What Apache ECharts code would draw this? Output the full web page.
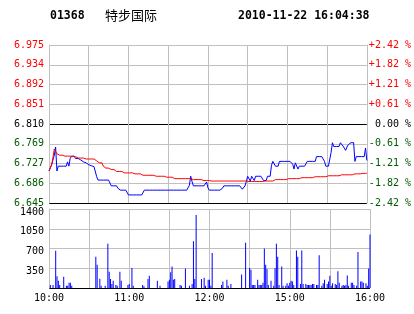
<!DOCTYPE html>
<html>
<head>
<meta charset="utf-8">
<script src="https://cdn.jsdelivr.net/npm/echarts@6/dist/echarts.min.js"></script>
<style>
html,body{margin:0;padding:0;background:#fff;}
#chart{width:414px;height:314px;}
</style>
</head>
<body>
<div id="chart"></div>
<script>
// ---------- DATA ----------
const stockCode = '01368';
const stockName = '特步国际';
const timestamp = '2010-11-22 16:04:38';
const prevClose = 6.81;
const pctRange = 2.42; // percent, top/bottom of price panel

// tick labels, bottom to top
const priceTickLabels = ['6.645','6.686','6.727','6.769','6.810','6.851','6.892','6.934','6.975'];
const pctTickLabels = ['-2.42 %','-1.82 %','-1.21 %','-0.61 %',' 0.00 %','+0.61 %','+1.21 %','+1.82 %','+2.42 %'];
const volumeTicks = [0, 350, 700, 1050, 1400];
const timeLabels = ['10:00', '11:00', '12:00', '15:00', '16:00'];

// trading sessions (minute categories)
const sessions = [['10:00', '12:30'], ['14:31', '16:00']];

// last price per minute
const price = [
  6.712, 6.716, 6.725, 6.735, 6.745, 6.762, 6.712, 6.722, 6.722, 6.722,
  6.722, 6.722, 6.722, 6.722, 6.731, 6.722, 6.738, 6.743, 6.743, 6.743,
  6.738, 6.738, 6.738, 6.735, 6.735, 6.733, 6.731, 6.731, 6.729, 6.727,
  6.725, 6.725, 6.723, 6.721, 6.721, 6.720, 6.700, 6.693, 6.693, 6.693,
  6.693, 6.693, 6.693, 6.693, 6.693, 6.693, 6.689, 6.681, 6.681, 6.681,
  6.681, 6.681, 6.676, 6.672, 6.672, 6.672, 6.672, 6.672, 6.672, 6.672,
  6.662, 6.662, 6.662, 6.662, 6.662, 6.662, 6.662, 6.662, 6.662, 6.662,
  6.662, 6.662, 6.672, 6.672, 6.672, 6.672, 6.672, 6.672, 6.672, 6.672,
  6.672, 6.672, 6.672, 6.672, 6.672, 6.672, 6.672, 6.672, 6.672, 6.672,
  6.672, 6.672, 6.672, 6.672, 6.672, 6.672, 6.672, 6.672, 6.672, 6.672,
  6.672, 6.672, 6.672, 6.672, 6.672, 6.676, 6.682, 6.701, 6.690, 6.681,
  6.681, 6.681, 6.681, 6.681, 6.681, 6.681, 6.681, 6.681, 6.681, 6.689,
  6.677, 6.672, 6.672, 6.672, 6.672, 6.672, 6.672, 6.672, 6.672, 6.672,
  6.672, 6.676, 6.681, 6.681, 6.681, 6.681, 6.681, 6.681, 6.681, 6.681,
  6.681, 6.681, 6.681, 6.681, 6.681, 6.681, 6.674, 6.677, 6.681, 6.690,
  6.701, 6.701, 6.691, 6.701, 6.701, 6.692, 6.701, 6.701, 6.701, 6.701,
  6.701, 6.701, 6.692, 6.692, 6.692, 6.701, 6.701, 6.701, 6.724, 6.732,
  6.732, 6.722, 6.722, 6.722, 6.732, 6.732, 6.732, 6.732, 6.732, 6.732,
  6.732, 6.732, 6.732, 6.732, 6.726, 6.716, 6.729, 6.731, 6.716, 6.722,
  6.722, 6.722, 6.722, 6.722, 6.722, 6.732, 6.732, 6.732, 6.732, 6.732,
  6.732, 6.732, 6.742, 6.742, 6.742, 6.742, 6.742, 6.742, 6.732, 6.722,
  6.722, 6.722, 6.722, 6.751, 6.771, 6.763, 6.763, 6.763, 6.763, 6.763,
  6.771, 6.771, 6.764, 6.767, 6.755, 6.762, 6.767, 6.771, 6.771, 6.771,
  6.771, 6.732, 6.742, 6.742, 6.742, 6.742, 6.742, 6.742, 6.742, 6.760,
  6.734
];

// average price per minute
const avgPrice = [
  6.712, 6.716, 6.725, 6.740, 6.758, 6.755, 6.748, 6.745, 6.745, 6.745,
  6.745, 6.743, 6.743, 6.743, 6.743, 6.743, 6.743, 6.743, 6.742, 6.742,
  6.742, 6.739, 6.739, 6.739, 6.739, 6.739, 6.739, 6.739, 6.737, 6.737,
  6.737, 6.737, 6.737, 6.737, 6.737, 6.733, 6.733, 6.733, 6.729, 6.729,
  6.729, 6.722, 6.722, 6.718, 6.718, 6.718, 6.715, 6.715, 6.715, 6.715,
  6.715, 6.711, 6.711, 6.711, 6.711, 6.711, 6.711, 6.708, 6.708, 6.708,
  6.708, 6.708, 6.708, 6.708, 6.706, 6.706, 6.706, 6.706, 6.706, 6.706,
  6.706, 6.703, 6.703, 6.703, 6.703, 6.703, 6.703, 6.703, 6.703, 6.703,
  6.701, 6.701, 6.701, 6.701, 6.701, 6.701, 6.701, 6.701, 6.699, 6.699,
  6.699, 6.699, 6.699, 6.699, 6.696, 6.696, 6.696, 6.696, 6.696, 6.696,
  6.696, 6.696, 6.696, 6.696, 6.696, 6.696, 6.696, 6.696, 6.696, 6.694,
  6.694, 6.694, 6.694, 6.694, 6.694, 6.694, 6.694, 6.692, 6.692, 6.692,
  6.692, 6.692, 6.691, 6.691, 6.691, 6.691, 6.691, 6.691, 6.691, 6.691,
  6.691, 6.691, 6.691, 6.691, 6.691, 6.691, 6.691, 6.691, 6.691, 6.691,
  6.691, 6.691, 6.691, 6.691, 6.691, 6.691, 6.691, 6.691, 6.691, 6.691,
  6.691, 6.690, 6.690, 6.690, 6.690, 6.690, 6.690, 6.690, 6.690, 6.690,
  6.690, 6.690, 6.691, 6.691, 6.691, 6.691, 6.691, 6.691, 6.691, 6.691,
  6.691, 6.694, 6.694, 6.694, 6.694, 6.694, 6.694, 6.694, 6.694, 6.694,
  6.694, 6.696, 6.696, 6.696, 6.696, 6.696, 6.696, 6.696, 6.696, 6.696,
  6.696, 6.698, 6.698, 6.698, 6.698, 6.698, 6.698, 6.698, 6.698, 6.698,
  6.698, 6.700, 6.700, 6.700, 6.700, 6.700, 6.700, 6.700, 6.700, 6.700,
  6.700, 6.702, 6.702, 6.702, 6.702, 6.702, 6.702, 6.702, 6.702, 6.702,
  6.702, 6.704, 6.704, 6.704, 6.704, 6.704, 6.704, 6.704, 6.704, 6.704,
  6.704, 6.706, 6.706, 6.706, 6.706, 6.706, 6.706, 6.707, 6.707, 6.707,
  6.707
];

// volume per minute
const volume = [
  0, 55, 0, 55, 0, 660, 210, 130, 55, 0,
  0, 200, 0, 40, 40, 95, 95, 40, 0, 0,
  0, 0, 0, 0, 0, 0, 0, 0, 0, 0,
  0, 0, 0, 0, 0, 555, 410, 0, 165, 40,
  0, 0, 40, 0, 785, 290, 160, 70, 130, 0,
  55, 40, 0, 290, 130, 0, 0, 0, 0, 55,
  70, 0, 355, 40, 0, 0, 0, 0, 0, 0,
  55, 30, 0, 0, 160, 215, 0, 0, 0, 0,
  0, 130, 0, 40, 0, 0, 0, 0, 0, 115,
  145, 280, 380, 145, 160, 0, 0, 0, 55, 40,
  0, 0, 345, 0, 0, 40, 0, 70, 830, 160,
  1295, 0, 0, 0, 160, 0, 180, 40, 0, 145,
  145, 40, 620, 0, 0, 0, 0, 0, 0, 55,
  115, 0, 0, 145, 40, 0, 70, 0, 0, 0,
  0, 0, 0, 0, 240, 0, 0, 800, 0, 0,
  355, 325, 55, 55, 55, 0, 145, 55, 55, 55,
  95, 700, 410, 335, 55, 0, 130, 0, 40, 350,
  785, 555, 55, 0, 380, 40, 0, 40, 85, 40,
  95, 130, 115, 55, 0, 665, 555, 0, 70, 665,
  70, 0, 70, 55, 55, 55, 55, 70, 70, 0,
  55, 55, 580, 0, 40, 85, 145, 0, 70, 115,
  215, 40, 85, 0, 70, 55, 295, 95, 0, 40,
  55, 40, 55, 220, 40, 0, 95, 95, 55, 0,
  40, 640, 0, 115, 115, 95, 0, 85, 40, 345,
  950
];

// ---------- BUILD ----------
function minuteList(start, end) {
  const toMin = s => { const p = s.split(':'); return (+p[0]) * 60 + (+p[1]); };
  const out = [];
  for (let m = toMin(start); m <= toMin(end); m++) {
    const h = Math.floor(m / 60), mm = m % 60;
    out.push((h < 10 ? '0' : '') + h + ':' + (mm < 10 ? '0' : '') + mm);
  }
  return out;
}
const categories = sessions.reduce((acc, s) => acc.concat(minuteList(s[0], s[1])), []);

const RED = '#ff0000', GREEN = '#005a00', BLACK = '#000000', GRID = '#c0c0c0', BLUE = '#0000ff';
const MONO = '"DejaVu Sans Mono", "Liberation Mono", monospace';
const mid = (priceTickLabels.length - 1) / 2;
const tickColor = v => (+v > mid ? RED : (+v < mid ? GREEN : BLACK));
const priceSplitColors = priceTickLabels.map((_, i) => (i === 0 || i === mid) ? BLACK : GRID);
const volSplitColors = volumeTicks.map((_, i) => i === 0 ? BLACK : GRID);
const splitIdx = (i) => i % 30 === 0;
const labelIdx = (i, v) => timeLabels.indexOf(v) >= 0;

const chart = echarts.init(document.getElementById('chart'), null, { renderer: 'canvas' });
chart.setOption({
  animation: false,
  backgroundColor: '#ffffff',
  title: [
    { text: stockCode, left: 50, top: 10, padding: 0, textStyle: { fontFamily: MONO, fontSize: 11.5, fontWeight: 'bold', color: BLACK } },
    { text: stockName, left: 105, top: 9, padding: 0, textStyle: { fontFamily: '"Noto Sans CJK SC", sans-serif', fontSize: 13, fontWeight: 'normal', color: BLACK } },
    { text: timestamp, left: 238, top: 10, padding: 0, textStyle: { fontFamily: MONO, fontSize: 11.5, fontWeight: 'bold', color: BLACK } }
  ],
  grid: [
    { left: 49, top: 45, width: 321, height: 158 },
    { left: 49, top: 209, width: 321, height: 79 }
  ],
  xAxis: [
    {
      type: 'category', gridIndex: 0, data: categories, boundaryGap: false,
      axisLine: { show: false }, axisTick: { show: false }, axisLabel: { show: false },
      splitLine: { show: true, interval: splitIdx, lineStyle: { color: GRID, width: 1 } }
    },
    {
      type: 'category', gridIndex: 1, data: categories, boundaryGap: false,
      axisLine: { show: false }, axisTick: { show: false },
      axisLabel: { show: true, interval: labelIdx, color: BLACK, fontFamily: MONO, fontSize: 10, margin: 5 },
      splitLine: { show: true, interval: splitIdx, lineStyle: { color: GRID, width: 1 } }
    }
  ],
  yAxis: [
    {
      type: 'value', gridIndex: 0, position: 'left', show: false,
      min: prevClose * (1 - pctRange / 100), max: prevClose * (1 + pctRange / 100),
      splitLine: { show: false }
    },
    {
      type: 'value', gridIndex: 0, position: 'left', min: 0, max: priceTickLabels.length - 1, interval: 1,
      axisLine: { show: true, lineStyle: { color: GRID } }, axisTick: { show: false },
      axisLabel: { formatter: v => priceTickLabels[v], color: tickColor, fontFamily: MONO, fontSize: 10, margin: 5 },
      splitLine: { show: true, lineStyle: { color: priceSplitColors, width: 1 } }
    },
    {
      type: 'value', gridIndex: 0, position: 'right', min: 0, max: pctTickLabels.length - 1, interval: 1,
      axisLine: { show: true, lineStyle: { color: GRID } }, axisTick: { show: false },
      axisLabel: { formatter: v => pctTickLabels[v], color: tickColor, fontFamily: MONO, fontSize: 10, margin: 2 },
      splitLine: { show: false }
    },
    {
      type: 'value', gridIndex: 1, position: 'left',
      min: volumeTicks[0], max: volumeTicks[volumeTicks.length - 1], interval: volumeTicks[1] - volumeTicks[0],
      axisLine: { show: true, lineStyle: { color: GRID } }, axisTick: { show: false },
      axisLabel: {
        formatter: v => (v === 0 ? '' : '{v|' + v + '}'), margin: 5,
        rich: { v: { color: BLACK, fontFamily: MONO, fontSize: 10, padding: [6, 0, 0, 0] } }
      },
      splitLine: { show: true, lineStyle: { color: volSplitColors, width: 1 } }
    }
  ],
  series: [
    {
      name: 'price', type: 'line', xAxisIndex: 0, yAxisIndex: 0, data: price,
      showSymbol: false, symbol: 'none', lineStyle: { color: BLUE, width: 1 }, z: 3, silent: true
    },
    {
      name: 'avg', type: 'line', xAxisIndex: 0, yAxisIndex: 0, data: avgPrice,
      showSymbol: false, symbol: 'none', lineStyle: { color: RED, width: 1 }, z: 4, silent: true
    },
    {
      name: 'volume', type: 'bar', xAxisIndex: 1, yAxisIndex: 3, data: volume,
      barWidth: 1, itemStyle: { color: BLUE }, silent: true
    }
  ]
});
</script>
</body>
</html>
